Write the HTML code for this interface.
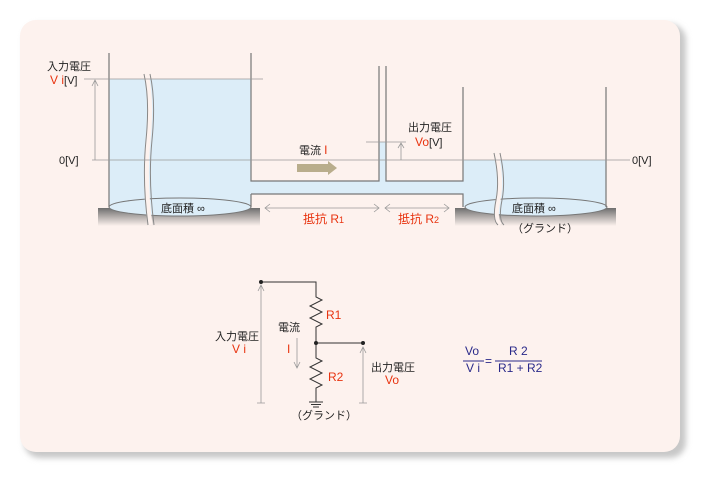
<!DOCTYPE html>
<html><head><meta charset="utf-8"><style>
html,body{margin:0;padding:0;background:#fff;}
svg{display:block;}
text{font-family:"Liberation Sans","Noto Sans CJK JP",sans-serif;font-size:11px;fill:#222;}
.r{fill:#e8330f;font-size:12px;}
.b{fill:#2a2a8a;font-size:12px;}
</style></head><body>
<svg width="706" height="478" viewBox="0 0 706 478" xmlns="http://www.w3.org/2000/svg">
<defs>
<linearGradient id="g" x1="0" y1="0" x2="0" y2="1"><stop offset="0" stop-color="#6e6e6e"/><stop offset="1" stop-color="#fdf2ee"/></linearGradient>
<filter id="sh" x="-5%" y="-5%" width="110%" height="110%"><feGaussianBlur stdDeviation="3"/></filter>
</defs>
<rect x="24" y="24" width="662" height="434" rx="16" fill="#c8c8c8" filter="url(#sh)"/>
<rect x="20" y="20" width="660" height="432" rx="16" fill="#fdf2ee"/>
<!-- slabs -->
<rect x="98" y="208" width="162" height="18" fill="url(#g)"/>
<rect x="455" y="208" width="161" height="18" fill="url(#g)"/>
<!-- water -->
<g fill="#dcedf8">
<rect x="109" y="79" width="142" height="128"/>
<rect x="251" y="181" width="214" height="13"/>
<rect x="379" y="142" width="7" height="40"/>
<rect x="463" y="160" width="143" height="47"/>
</g>
<ellipse cx="180" cy="207" rx="71" ry="9" fill="#dcedf8" stroke="#777" stroke-width="1"/>
<ellipse cx="536" cy="207" rx="71" ry="9" fill="#dcedf8" stroke="#777" stroke-width="1"/>
<!-- walls -->
<g stroke="#777" stroke-width="1.2" fill="none">
<path d="M109 53V207M251 53V181H379V66M386 66V181H463V87M606 87V207"/>
<path d="M251 194H463V207M251 194V207"/>
</g>
<!-- break marks -->
<g stroke="#888" fill="none" stroke-width="1">
<path d="M146 74Q152 100 148 140T150 225" stroke-width="5" stroke="#fdf2ee"/>
<path d="M144 74Q150 100 146 140T148 225M150 74Q156 100 152 140T154 225"/>
<path d="M496 153Q502 180 498 200T500 225" stroke-width="5" stroke="#fdf2ee"/>
<path d="M494 153Q500 180 496 200T498 225M500 153Q506 180 502 200T504 225"/>
</g>
<!-- level lines -->
<g stroke="#999" stroke-width="0.8" fill="none">
<path d="M84 79H263M92 160H630M366 142H406"/>
<path d="M95 160V80M92 86L95 80L98 86M401 160V143M398 148L401 143L404 148"/>
<path d="M265 208H379M270 204L265 208L270 212M374 204L379 208L374 212M385 208H449M390 204L385 208L390 212M444 204L449 208L444 212"/>
</g>
<!-- current arrow -->
<path d="M297 164H328V161L337 168L328 175V172H297Z" fill="#b9ad8c"/>
<!-- labels -->
<text x="47" y="70">入力電圧</text>
<text x="50" y="84"><tspan class="r">V i</tspan>[V]</text>
<text x="59" y="164">0[V]</text>
<text x="632" y="164">0[V]</text>
<text x="299" y="154">電流 <tspan class="r">I</tspan></text>
<text x="408" y="131">出力電圧</text>
<text x="415" y="146"><tspan class="r">Vo</tspan>[V]</text>
<text x="161" y="212">底面積 ∞</text>
<text x="512" y="212">底面積 ∞</text>
<text x="303" y="223" class="r">抵抗 R<tspan font-size="9">1</tspan></text>
<text x="398" y="223" class="r">抵抗 R<tspan font-size="9">2</tspan></text>
<text x="512" y="232" font-size="10">（グランド）</text>
<!-- circuit -->
<g stroke="#333" stroke-width="1" fill="none">
<path d="M261 282H316V297L322 300L310 306L322 312L310 318L322 324L316 327V358L322 361L310 367L322 373L310 379L322 385L316 388V402"/>
<path d="M316 343H363"/>
<path d="M309 402H323M311 404.5H321M313 407H319"/>
</g>
<circle cx="261" cy="282" r="2" fill="#222"/>
<circle cx="316" cy="343" r="2" fill="#222"/>
<circle cx="363" cy="343" r="2" fill="#222"/>
<g stroke="#999" stroke-width="0.8" fill="none">
<path d="M261 403V285M258 291L261 285L264 291M257 403H265"/>
<path d="M363 403V347M360 353L363 347L366 353M359 403H367"/>
<path d="M297 338V368M294 362L297 368L300 362"/>
</g>
<text x="326" y="319" class="r">R1</text>
<text x="328" y="381" class="r">R2</text>
<text x="278" y="331">電流</text>
<text x="287" y="353" class="r">I</text>
<text x="215" y="340">入力電圧</text>
<text x="232" y="353" class="r">V i</text>
<text x="371" y="371">出力電圧</text>
<text x="385" y="384" class="r">Vo</text>
<text x="291" y="419" font-size="10">（グランド）</text>
<!-- formula -->
<text x="465" y="355" class="b">Vo</text>
<path d="M463 361H484M495 361H542" stroke="#2a2a8a" stroke-width="1"/>
<text x="466" y="372" class="b">V i</text>
<text x="485" y="365" class="b">=</text>
<text x="509" y="355" class="b">R 2</text>
<text x="498" y="372" class="b">R1 + R2</text>
</svg>
</body></html>
